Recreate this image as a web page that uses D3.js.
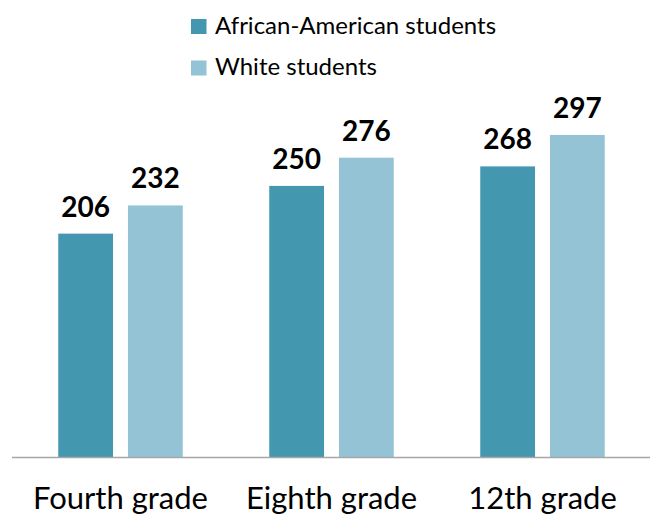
<!DOCTYPE html>
<html>
<head>
<meta charset="utf-8">
<script src="https://cdn.jsdelivr.net/npm/d3@7"></script>
<style>
  body { margin: 0; background: #fff; }
  svg { display: block; font-family: Lato, "Open Sans", sans-serif; }
</style>
</head>
<body>
<div class="chart"></div>
<script>
var width = 652;
var height = 515;

var grades = ["Fourth grade", "Eighth grade", "12th grade"];
var series = ["African-American students", "White students"];
var african_american = [206, 250, 268];
var white = [232, 276, 297];
var colors = ["#4397AE", "#93C3D5"];

var rows = grades.map(function(g, i) {
    return {grade: g, values: [african_american[i], white[i]]};
});

var svg = d3.select(".chart")
    .append("svg")
    .attr("width", width)
    .attr("height", height);

var baseline = 457;

var x0 = d3.scaleBand()
    .domain(grades)
    .range([15, 648])
    .paddingInner(0.41)
    .paddingOuter(0.205);

var x1 = d3.scaleBand()
    .domain(series)
    .range([0, x0.bandwidth()])
    .paddingInner(0.214);

var y = d3.scaleLinear()
    .domain([0, 300])
    .range([baseline, baseline - 325.3]);

var groups = svg.selectAll(".grade")
    .data(rows)
    .enter()
    .append("g")
    .attr("class", "grade")
    .attr("transform", function(d) { return "translate(" + x0(d.grade) + ",0)"; });

var cells = groups.selectAll(".bar")
    .data(function(d) {
        return d.values.map(function(v, i) { return {name: series[i], value: v, idx: i}; });
    })
    .enter();

cells.append("rect")
    .attr("class", "bar")
    .attr("x", function(d) { return x1(d.name); })
    .attr("y", function(d) { return y(d.value); })
    .attr("width", x1.bandwidth())
    .attr("height", function(d) { return baseline - y(d.value); })
    .attr("fill", function(d) { return colors[d.idx]; });

cells.append("text")
    .attr("x", function(d) { return x1(d.name) + x1.bandwidth() / 2; })
    .attr("y", function(d) { return y(d.value) - 17; })
    .attr("text-anchor", "middle")
    .attr("font-size", "28px")
    .attr("font-weight", "bold")
    .attr("fill", "#000")
    .text(function(d) { return d.value; });

// x axis: plain line plus category labels
var xAxis = svg.append("g")
    .attr("transform", "translate(0," + baseline + ")")
    .call(d3.axisBottom(x0).tickSize(0).tickPadding(30));

xAxis.select(".domain")
    .attr("d", "M12,0.5H650")
    .attr("stroke", "#A6A6A6")
    .attr("stroke-width", 1.5);

xAxis.selectAll("text")
    .attr("font-family", "Lato, 'Open Sans', sans-serif")
    .attr("font-size", "31px")
    .attr("fill", "#000");

// legend
var legend = svg.selectAll(".legend")
    .data(series)
    .enter()
    .append("g")
    .attr("class", "legend")
    .attr("transform", function(d, i) { return "translate(191," + (19 + i * 41.5) + ")"; });

legend.append("rect")
    .attr("width", 15.5)
    .attr("height", 15)
    .attr("fill", function(d, i) { return colors[i]; });

legend.append("text")
    .attr("x", 24)
    .attr("y", 14.5)
    .attr("font-size", "24px")
    .attr("fill", "#000")
    .text(function(d) { return d; });
</script>
</body>
</html>
